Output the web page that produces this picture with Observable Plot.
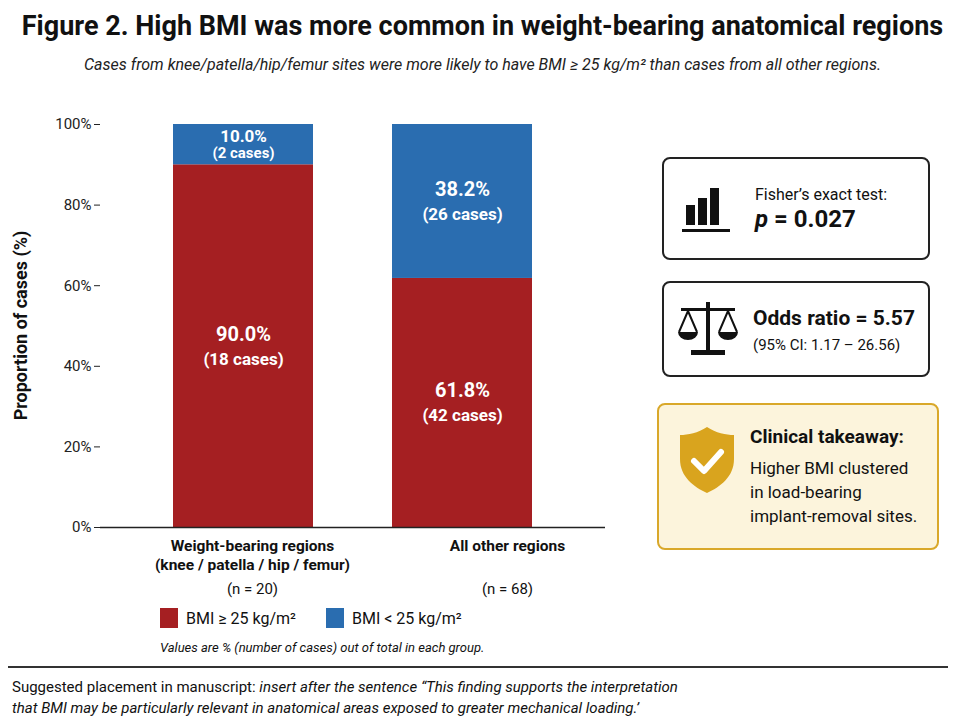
<!DOCTYPE html>
<html><head><meta charset="utf-8">
<script src="https://cdn.jsdelivr.net/npm/d3@7"></script>
<script src="https://cdn.jsdelivr.net/npm/@observablehq/plot@0.6"></script>
<style>
body{margin:0;background:#fff;font-family:Roboto,"Liberation Sans",sans-serif;color:#111;}
#page{position:relative;width:965px;height:724px;}
.abs{position:absolute;}
.box{position:absolute;border:2px solid #222;border-radius:8px;background:#fff;}
</style></head><body><div id="page">
<div class="abs" style="left:0;top:10px;width:965px;text-align:center;font-size:27px;font-weight:bold;">Figure 2. High BMI was more common in weight-bearing anatomical regions</div>
<div class="abs" style="left:0;top:55px;width:965px;text-align:center;font-size:16px;font-style:italic;color:#222;">Cases from knee/patella/hip/femur sites were more likely to have BMI ≥ 25 kg/m² than cases from all other regions.</div>
<div class="abs" style="left:-95px;top:315px;width:230px;text-align:center;transform:rotate(-90deg);font-size:18px;font-weight:bold;">Proportion of cases (%)</div>
<div id="chart" class="abs" style="left:0;top:110px;"></div>
<div class="abs" style="left:130px;top:537px;width:245px;text-align:center;font-size:15.5px;font-weight:bold;line-height:19px;">Weight-bearing regions<br>(knee / patella / hip / femur)</div>
<div class="abs" style="left:380px;top:537px;width:255px;text-align:center;font-size:15.5px;font-weight:bold;">All other regions</div>
<div class="abs" style="left:130px;top:580px;width:245px;text-align:center;font-size:15px;">(n = 20)</div>
<div class="abs" style="left:380px;top:580px;width:255px;text-align:center;font-size:15px;">(n = 68)</div>
<div class="abs" style="left:160px;top:608px;font-size:16px;display:flex;align-items:center;gap:8px;">
<span style="display:inline-block;width:18px;height:20px;background:#a51f22;"></span>BMI ≥ 25 kg/m²
<span style="display:inline-block;width:18px;height:20px;background:#2a6db0;margin-left:22px;"></span>BMI &lt; 25 kg/m²</div>
<div class="abs" style="left:160px;top:640px;font-size:13px;font-style:italic;">Values are % (number of cases) out of total in each group.</div>
<div class="abs" style="left:8px;top:666px;width:940px;border-top:2px solid #333;"></div>
<div class="abs" style="left:12px;top:677px;font-size:15px;line-height:21px;">Suggested placement in manuscript: <i>insert after the sentence “This finding supports the interpretation<br>that BMI may be particularly relevant in anatomical areas exposed to greater mechanical loading.’</i></div>

<div class="box" style="left:662px;top:157px;width:264px;height:99px;"></div>
<svg class="abs" style="left:680px;top:185px" width="56" height="52"><rect x="6" y="20" width="9" height="20" fill="#111"/><rect x="18" y="13" width="9" height="27" fill="#111"/><rect x="30" y="3" width="9" height="37" fill="#111"/><rect x="2" y="44" width="48" height="3" fill="#111"/></svg>
<div class="abs" style="left:755px;top:185px;font-size:16px;">Fisher’s exact test:</div>
<div class="abs" style="left:755px;top:205px;font-size:24px;font-weight:bold;"><i>p</i> = 0.027</div>

<div class="box" style="left:662px;top:281px;width:264px;height:92px;"></div>
<svg class="abs" style="left:677px;top:300px" width="62" height="58"><rect x="29" y="2" width="4" height="48" fill="#111"/><rect x="4" y="8" width="54" height="3" fill="#111"/><rect x="14" y="50" width="34" height="5" fill="#111"/><path d="M11 11 L2 32 M11 11 L20 32 M51 11 L42 32 M51 11 L60 32" stroke="#111" stroke-width="2" fill="none"/><path d="M1 32 A10 8 0 0 0 21 32 Z M41 32 A10 8 0 0 0 61 32 Z" fill="#111"/></svg>
<div class="abs" style="left:753px;top:306px;font-size:21px;font-weight:bold;">Odds ratio = 5.57</div>
<div class="abs" style="left:753px;top:336px;font-size:15px;">(95% CI: 1.17 – 26.56)</div>

<div class="box" style="left:657px;top:403px;width:278px;height:143px;border-color:#d9a82a;background:#fcf4dc;"></div>
<svg class="abs" style="left:678px;top:425px" width="58" height="70"><path d="M29 2 C20 8 10 10 2 10 L2 34 C2 52 16 62 29 68 C42 62 56 52 56 34 L56 10 C48 10 38 8 29 2 Z" fill="#d9a41e"/><path d="M16 36 L26 46 L43 27" stroke="#fff" stroke-width="6" fill="none" stroke-linecap="round" stroke-linejoin="round"/></svg>
<div class="abs" style="left:750px;top:425px;font-size:19px;font-weight:bold;">Clinical takeaway:</div>
<div class="abs" style="left:750px;top:456px;font-size:17px;line-height:24px;">Higher BMI clustered<br>in load-bearing<br>implant-removal sites.</div>
</div>
<script>
const groups = ["Weight-bearing regions", "All other regions"];
const highPct = [90.0, 61.8];
const lowPct = [10.0, 38.2];
const highCases = [18, 42];
const lowCases = [2, 26];
const series = ["BMI ≥ 25", "BMI < 25"];
const colors = ["#a51f22", "#2a6db0"];
const yTicks = [0, 20, 40, 60, 80, 100];

const rows = [];
groups.forEach((g, i) => {
  rows.push({group: g, series: series[0], pct: highPct[i], cases: highCases[i], y1: 0, y2: highPct[i]});
  rows.push({group: g, series: series[1], pct: lowPct[i], cases: lowCases[i], y1: highPct[i], y2: 100});
});
const labels = rows.map(d => ({...d, mid: (d.y1 + d.y2) / 2}));
const bigL = labels.filter(d => d.pct >= 20);
const smallL = labels.filter(d => d.pct < 20);

const chart = Plot.plot({
  width: 645, height: 440,
  marginLeft: 100, marginRight: 40, marginTop: 14, marginBottom: 23,
  style: {fontFamily: "Roboto, sans-serif", fontSize: "15px", color: "#222"},
  x: {domain: groups, paddingInner: 0.36, paddingOuter: 0.33, axis: null},
  y: {domain: [0, 100], ticks: yTicks, tickFormat: d => d + "%", label: null, tickSize: 6},
  color: {domain: series, range: colors},
  marks: [
    Plot.gridY(yTicks, {stroke: "#999", strokeDasharray: "4,3", strokeOpacity: 0.8, x1: 100, x2: 640}),
    Plot.rectY(rows, {x: "group", y1: "y1", y2: "y2", fill: "series"}),
    Plot.ruleY([0], {stroke: "#222", strokeWidth: 1.5}),
    Plot.text(bigL, {x: "group", y: "mid", text: d => d.pct.toFixed(1) + "%", dy: -12, fill: "white", fontWeight: "bold", fontSize: 20, textAnchor: "middle"}),
    Plot.text(bigL, {x: "group", y: "mid", text: d => `(${d.cases} cases)`, dy: 13, fill: "white", fontWeight: "bold", fontSize: 17, textAnchor: "middle"}),
    Plot.text(smallL, {x: "group", y: "mid", text: d => d.pct.toFixed(1) + "%", dy: -8, fill: "white", fontWeight: "bold", fontSize: 17, textAnchor: "middle"}),
    Plot.text(smallL, {x: "group", y: "mid", text: d => `(${d.cases} cases)`, dy: 9, fill: "white", fontWeight: "bold", fontSize: 15, textAnchor: "middle"}),
    Plot.axisY({ticks: yTicks, tickFormat: d => d + "%", fontSize: 15, label: null})
  ]
});
document.getElementById("chart").appendChild(chart);
</script></body></html>
